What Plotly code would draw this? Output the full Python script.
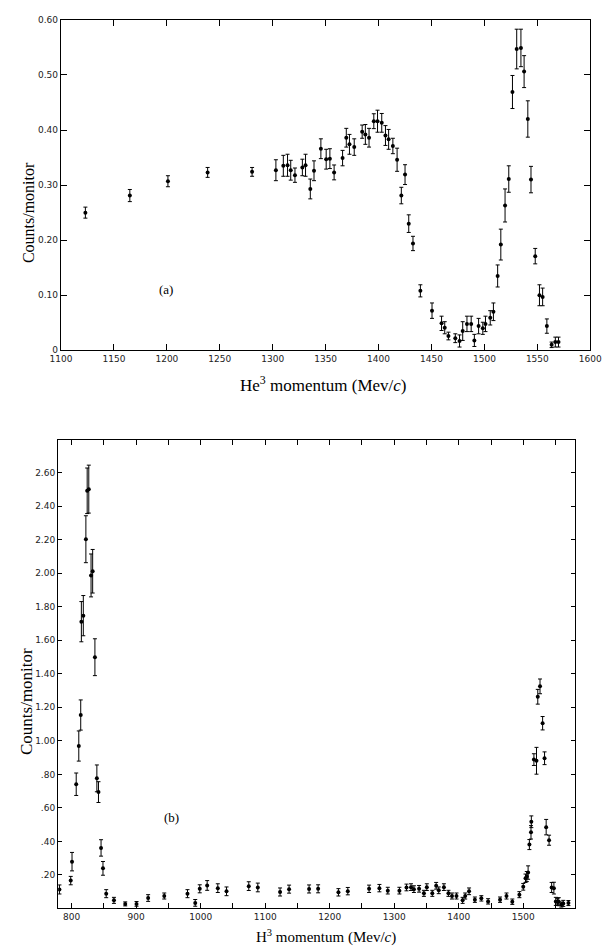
import plotly.graph_objects as go

# ---------------- Panel (a): He3 momentum ----------------
a_x = [1123, 1165, 1201, 1238.5, 1280.5, 1303, 1310, 1314, 1317, 1321, 1328, 1331,
       1335.5, 1339, 1345.5, 1350.5, 1354, 1358, 1366, 1369.5, 1372.5, 1377, 1384.5,
       1387.5, 1391, 1395.5, 1399, 1403, 1406.5, 1409.5, 1413.5, 1417.5, 1421.5, 1425,
       1428.5, 1432.5, 1439.5, 1450.5, 1459.5, 1462.5, 1466, 1472.5, 1476.5, 1479.5,
       1483.5, 1487.5, 1490.5, 1494.5, 1498.5, 1501, 1505.5, 1508.5, 1512.5, 1515.5,
       1519.5, 1523, 1526.5, 1530.5, 1534.5, 1537.5, 1541, 1544, 1548, 1552, 1555,
       1559, 1563.5, 1567, 1570]
a_y = [0.250, 0.281, 0.307, 0.323, 0.324, 0.327, 0.335, 0.336, 0.327, 0.318, 0.332, 0.336,
       0.293, 0.326, 0.366, 0.347, 0.348, 0.323, 0.349, 0.386, 0.374, 0.369, 0.397,
       0.392, 0.386, 0.416, 0.416, 0.413, 0.390, 0.383, 0.371, 0.346, 0.281, 0.319,
       0.230, 0.194, 0.108, 0.072, 0.049, 0.041, 0.026, 0.022, 0.017, 0.035,
       0.048, 0.048, 0.018, 0.044, 0.040, 0.048, 0.059, 0.070, 0.135, 0.192,
       0.263, 0.311, 0.469, 0.547, 0.549, 0.506, 0.420, 0.310, 0.171, 0.100, 0.097,
       0.044, 0.010, 0.015, 0.015]
a_err = [0.010, 0.011, 0.010, 0.009, 0.008, 0.019, 0.019, 0.020, 0.018, 0.013, 0.015, 0.020,
         0.018, 0.018, 0.018, 0.018, 0.018, 0.0135, 0.014, 0.017, 0.018, 0.015, 0.012,
         0.018, 0.017, 0.0135, 0.020, 0.017, 0.018, 0.018, 0.014, 0.021, 0.015, 0.018,
         0.016, 0.013, 0.011, 0.014, 0.013, 0.011, 0.007, 0.008, 0.011, 0.017,
         0.014, 0.014, 0.011, 0.014, 0.011, 0.014, 0.013, 0.016, 0.020, 0.028,
         0.030, 0.024, 0.030, 0.036, 0.034, 0.029, 0.033, 0.024, 0.014, 0.019, 0.016,
         0.013, 0.005, 0.009, 0.009]

# ---------------- Panel (b): H3 momentum ----------------
b_x = [781, 798.5, 800.5, 807, 811, 814, 815, 818, 822, 824, 826.5, 830, 832.5, 836,
       839, 841.5, 845.5, 848.5, 853.5, 865.5, 883, 900.5, 918.5, 943.5, 979.5, 991.5,
       998.5, 1010, 1026.5, 1040, 1074.5, 1088.5, 1123, 1137, 1168, 1182, 1213.5, 1228,
       1261, 1277, 1290, 1308, 1319, 1326, 1330.5, 1338.5, 1346, 1350.5, 1359, 1365,
       1369, 1377, 1384, 1389.5, 1396.5, 1406, 1410, 1416, 1425, 1435, 1445.5, 1464,
       1474, 1483, 1494, 1500, 1503.5, 1505.5, 1507.5, 1509.5, 1512, 1512.5, 1516.5,
       1520.5, 1522.5, 1526, 1530, 1533, 1535.5, 1540, 1544, 1547.5, 1550.5, 1553,
       1555, 1559, 1562, 1570]
b_y = [0.113, 0.166, 0.279, 0.741, 0.969, 1.154, 1.711, 1.747, 2.203, 2.492, 2.502, 1.987,
       2.012, 1.499, 0.776, 0.694, 0.361, 0.239, 0.088, 0.048, 0.027, 0.027, 0.062, 0.074,
       0.088, 0.033, 0.117, 0.137, 0.121, 0.102, 0.133, 0.125, 0.098, 0.115, 0.116, 0.117,
       0.096, 0.103, 0.117, 0.121, 0.106, 0.106, 0.125, 0.127, 0.115, 0.117, 0.090, 0.127,
       0.090, 0.135, 0.108, 0.127, 0.090, 0.074, 0.074, 0.048, 0.074, 0.102, 0.052, 0.060,
       0.042, 0.052, 0.074, 0.040, 0.082, 0.129, 0.180, 0.190, 0.214, 0.381, 0.454, 0.517,
       0.888, 0.881, 1.263, 1.325, 1.105, 0.896, 0.485, 0.407, 0.125, 0.121, 0.042, 0.040,
       0.040, 0.023, 0.030, 0.032]
b_err = [0.027, 0.025, 0.055, 0.067, 0.090, 0.090, 0.120, 0.120, 0.140, 0.136, 0.143, 0.128,
         0.130, 0.110, 0.080, 0.062, 0.049, 0.041, 0.024, 0.018, 0.012, 0.014, 0.020, 0.018,
         0.024, 0.020, 0.024, 0.029, 0.026, 0.026, 0.026, 0.026, 0.024, 0.024, 0.024, 0.024,
         0.022, 0.022, 0.022, 0.022, 0.020, 0.020, 0.020, 0.020, 0.020, 0.020, 0.018, 0.020,
         0.018, 0.020, 0.020, 0.020, 0.018, 0.018, 0.018, 0.018, 0.018, 0.020, 0.016, 0.016,
         0.016, 0.016, 0.018, 0.016, 0.018, 0.020, 0.025, 0.030, 0.040, 0.030, 0.040, 0.035,
         0.035, 0.080, 0.044, 0.044, 0.040, 0.038, 0.046, 0.030, 0.030, 0.035, 0.024, 0.020,
         0.024, 0.015, 0.018, 0.015]

a_xticks = list(range(1100, 1601, 50))
a_xtext = [str(v) for v in a_xticks]
a_yticks = [0, 0.1, 0.2, 0.3, 0.4, 0.5, 0.6]
a_ytext = ["0", "0.10", "0.20", "0.30", "0.40", "0.50", "0.60"]

b_xticks = list(range(800, 1501, 100))
b_xtext = [str(v) for v in b_xticks]
b_yticks = [0.2, 0.4, 0.6, 0.8, 1.0, 1.2, 1.4, 1.6, 1.8, 2.0, 2.2, 2.4, 2.6]
b_ytext = [".20", ".40", ".60", ".80", "1.00", "1.20", "1.40", "1.60", "1.80",
           "2.00", "2.20", "2.40", "2.60"]

W, H = 609, 952
fig = go.Figure()

def add_series(x, y, err, xa, ya):
    fig.add_trace(go.Scatter(
        x=x, y=y, mode="markers", xaxis=xa, yaxis=ya, showlegend=False,
        marker=dict(color="black", size=4),
        error_y=dict(type="data", array=err, visible=True, color="black",
                     thickness=1, width=2),
    ))

add_series(a_x, a_y, a_err, "x", "y")
add_series(b_x, b_y, b_err, "x2", "y2")

tickfont = dict(family="DejaVu Sans", size=9, color="#222")
axis_common = dict(showgrid=False, zeroline=False, showline=True, linecolor="black",
                   linewidth=1.3, mirror="ticks", ticks="inside", tickcolor="black",
                   tickwidth=1.2, tickfont=tickfont, tickmode="array",
                   ticklabeloverflow="allow")

fig.update_layout(
    width=W, height=H, paper_bgcolor="white", plot_bgcolor="white",
    margin=dict(l=0, r=0, t=0, b=0),
    xaxis=dict(domain=[52 / W, 602 / W], range=[1100, 1600], anchor="y",
               tickvals=a_xticks, ticktext=a_xtext, ticklen=6, **axis_common),
    yaxis=dict(domain=[1 - 349 / H, 1 - 15 / H], range=[0, 0.6], anchor="x",
               tickvals=a_yticks, ticktext=a_ytext, ticklen=6, **axis_common),
    xaxis2=dict(domain=[49 / W, 586 / W], range=[779, 1580], anchor="y2",
                tickvals=b_xticks, ticktext=b_xtext, ticklen=5,
                minor=dict(dtick=50, tick0=800, ticks="inside", ticklen=5,
                           tickcolor="black", tickwidth=1.2, showgrid=False),
                **axis_common),
    yaxis2=dict(domain=[1 - 913 / H, 1 - 439.3 / H], range=[0, 2.797], anchor="x2",
                tickvals=b_yticks, ticktext=b_ytext, ticklen=4, **axis_common),
)

def title(text, x, y, size, angle=0):
    fig.add_annotation(text=text, xref="paper", yref="paper", x=x / W, y=1 - y / H,
                       xanchor="center", yanchor="middle", textangle=angle,
                       showarrow=False,
                       font=dict(family="Liberation Serif", size=size, color="black"))

title("Counts/monitor", 18, 210, 16, -90)
title("He<sup>3</sup> momentum (Mev/<i>c</i>)", 324, 383, 17)
title("Counts/monitor", 16, 704, 17, -90)
title("H<sup>3</sup> momentum (Mev/<i>c</i>)", 327, 941, 15)

label_font = dict(family="Liberation Serif", size=13, color="black")
fig.add_annotation(text="(a)", x=1199, y=0.11, xref="x", yref="y", showarrow=False, font=label_font)
fig.add_annotation(text="(b)", x=954, y=0.54, xref="x2", yref="y2", showarrow=False, font=label_font)

fig.write_html("out.html", config={"displayModeBar": False},
               post_script="document.body.style.margin='0';")
